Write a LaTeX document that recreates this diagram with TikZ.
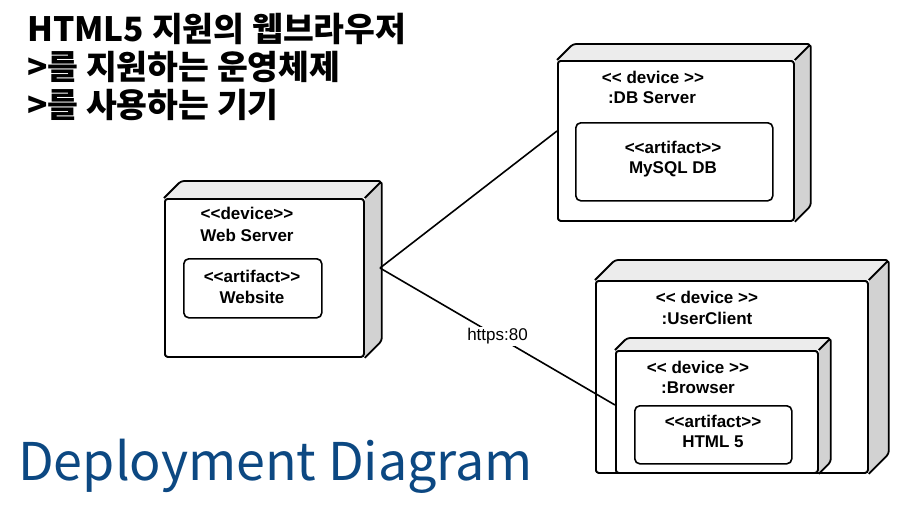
\documentclass[tikz,border=0pt]{standalone}
\usepackage{fontspec}
\setmainfont{Liberation Sans}[Ligatures=TeXOff]
\newfontfamily\krfont{Noto Sans CJK KR}
\usetikzlibrary{calc}
\definecolor{titleblue}{RGB}{12,72,130}
\definecolor{topgray}{RGB}{236,236,236}
\definecolor{sidegray}{RGB}{210,210,210}
\tikzset{
  front/.style={draw=black, line width=1.8pt, fill=white, rounded corners=3pt, inner sep=0pt},
  topface/.style={draw=black, line width=1.8pt, fill=topgray, rounded corners=3pt, line join=round},
  sideface/.style={draw=black, line width=1.8pt, fill=sidegray, rounded corners=3pt, line join=round},
  artbox/.style={draw=black, line width=1.6pt, fill=white, rounded corners=5pt, inner sep=0pt},
  lbl/.style={font=\bfseries\fontsize{17}{20}\selectfont, inner sep=0pt, anchor=center},
  conn/.style={draw=black, line width=1.6pt},
  conlabel/.style={font=\fontsize{17}{20}\selectfont, fill=white, inner sep=1.5pt},
  titletext/.style={font=\krfont\bfseries\fontsize{33.5}{38}\selectfont, anchor=base west, inner sep=0pt},
}
% #1 name, #2 x1, #3 y1, #4 x2, #5 y2, #6 depth
\newcommand{\devbox}[6]{%
  \node[front, minimum width={#4-#2}, minimum height={#5-#3}, anchor=north west] (#1) at (#2,#3) {};
  \path[topface] (#1.north west) -- ($(#1.north west)+(#6,-#6)$) -- ($(#1.north east)+(#6,-#6)$) -- (#1.north east);
  \path[sideface] (#1.north east) -- ($(#1.north east)+(#6,-#6)$) -- ($(#1.south east)+(#6,-#6)$) -- (#1.south east);
  \node[front, minimum width={#4-#2}, minimum height={#5-#3}, anchor=north west] at (#2,#3) {};
}
\begin{document}
\begin{tikzpicture}[x=1pt,y=-1pt]
\useasboundingbox (0,0) rectangle (898,504);
\fill[white] (0,0) rectangle (898,504);

% title
\node[titletext] (t1) at (27,41) {HTML5 지원의 웹브라우저};
\node[titletext] (t2) at (27,79) {>를 지원하는 운영체제};
\node[titletext] (t3) at (27,117) {>를 사용하는 기기};

% Web server
\devbox{ws}{164}{198}{363}{356}{17}
\node[lbl] (wsst) at (247,213) {<<device>>};
\node[lbl] (wsname) at (247,235) {Web Server};
\node[artbox, minimum width=138pt, minimum height=59pt, anchor=north west] (wsart) at (183,258) {};
\node[lbl] (wsartst) at (252,276) {<<artifact>>};
\node[lbl] (wsartname) at (252,297) {Website};

% DB server
\devbox{db}{557}{60}{793}{220}{16}
\node[lbl] (dbst) at (653,77) {<< device >>};
\node[lbl] (dbname) at (652,98) {:DB Server};
\node[artbox, minimum width=197pt, minimum height=78pt, anchor=north west] (dbart) at (575,122) {};
\node[lbl] (dbartst) at (673,147) {<<artifact>>};
\node[lbl] (dbartname) at (673,169) {MySQL DB};

% User client
\devbox{uc}{595}{280}{867}{472}{20}
\node[lbl] (ucst) at (707,297) {<< device >>};
\node[lbl] (ucname) at (707,318) {:UserClient};

% Browser
\devbox{br}{615}{350}{817}{472}{12}
\node[lbl] (brst) at (698,367) {<< device >>};
\node[lbl] (brname) at (698,388) {:Browser};
\node[artbox, minimum width=157pt, minimum height=58pt, anchor=north west] (brart) at (634,405) {};
\node[lbl] (brartst) at (713,421) {<<artifact>>};
\node[lbl] (brartname) at (713,442) {HTML 5};

% connectors
\coordinate (wsport) at (380,268);
\coordinate (dbport) at (db.west |- 0,131);
\coordinate (brport) at (br.west |- 0,405);
\draw[conn] (wsport) -- (dbport);
\draw[conn] (wsport) -- node[conlabel, pos=0.5] (https) {https:80} (brport);

% footer
\node[font=\krfont\fontsize{52}{60}\selectfont, text=titleblue, anchor=base west, inner sep=0pt] (foot) at (18,480) {Deployment Diagram};
\end{tikzpicture}
\end{document}
